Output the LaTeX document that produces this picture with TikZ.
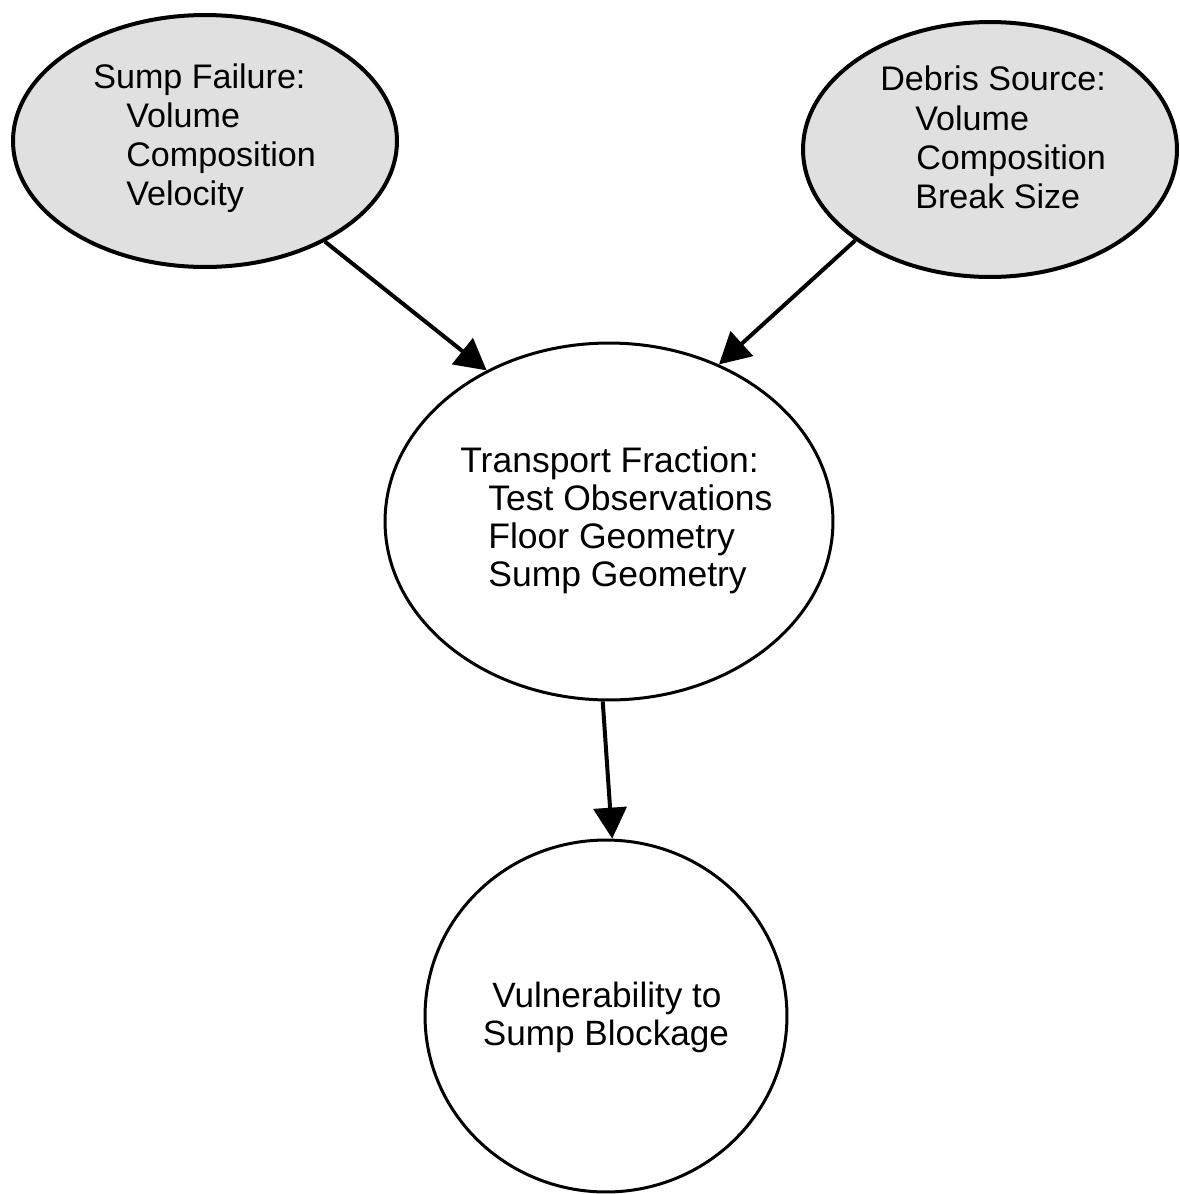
\documentclass[tikz,border=0pt]{standalone}
\usepackage{fontspec}
\setmainfont{Liberation Sans}
\usetikzlibrary{shapes.geometric,arrows.meta}

\begin{document}
\begin{tikzpicture}[x=0.02cm,y=-0.02cm,
  factor/.style={ellipse,draw,line width=0.08cm,fill=black!12,inner sep=0pt},
  result/.style={ellipse,draw,line width=0.06cm,fill=white,inner sep=0pt},
  txt/.style={font=\fontsize{19.4}{21.6}\selectfont,inner sep=0pt,anchor=base west},
  bigtxt/.style={font=\fontsize{20.2}{22.4}\selectfont,inner sep=0pt,anchor=base west},
  ctxt/.style={font=\fontsize{20}{22.4}\selectfont,inner sep=0pt,anchor=base},
  link/.style={line width=0.08cm,-{Triangle[length=0.62cm,width=0.66cm]}}]

% page frame
\useasboundingbox (0,0) rectangle (1180,1194);

% influence nodes
\node[factor,minimum width=7.68cm,minimum height=5.04cm] (sf) at (205,141) {};
\node[factor,minimum width=7.48cm,minimum height=5.10cm] (ds) at (990,149.5) {};
\node[result,minimum width=8.96cm,minimum height=7.14cm] (tf) at (609,521.5) {};
\node[result,minimum width=7.24cm,minimum height=7.04cm] (vb) at (606,1016) {};

% sump failure
\node[txt] (sf1) at (93,88)  {Sump Failure:};
\node[txt] (sf2) at (126,127) {Volume};
\node[txt] (sf3) at (126,166) {Composition};
\node[txt] (sf4) at (126,205) {Velocity};

% debris source
\node[txt] (ds1) at (880,90)  {Debris Source:};
\node[txt] (ds2) at (915,130) {Volume};
\node[txt] (ds3) at (916,169) {Composition};
\node[txt] (ds4) at (915,208) {Break Size};

% transport fraction
\node[bigtxt] (tf1) at (460,472) {Transport Fraction:};
\node[bigtxt] (tf2) at (488,510) {Test Observations};
\node[bigtxt] (tf3) at (488,548) {Floor Geometry};
\node[bigtxt] (tf4) at (488,586) {Sump Geometry};

% vulnerability
\node[ctxt] (vb1) at (607,1007) {Vulnerability to};
\node[ctxt] (vb2) at (606,1045) {Sump Blockage};

% influences
\draw[link] (sf.-40) -- (tf.129);
\draw[link] (ds.214) -- (tf.55);
\draw[link] (tf.268) -- (vb.88.5);
\end{tikzpicture}
\end{document}
